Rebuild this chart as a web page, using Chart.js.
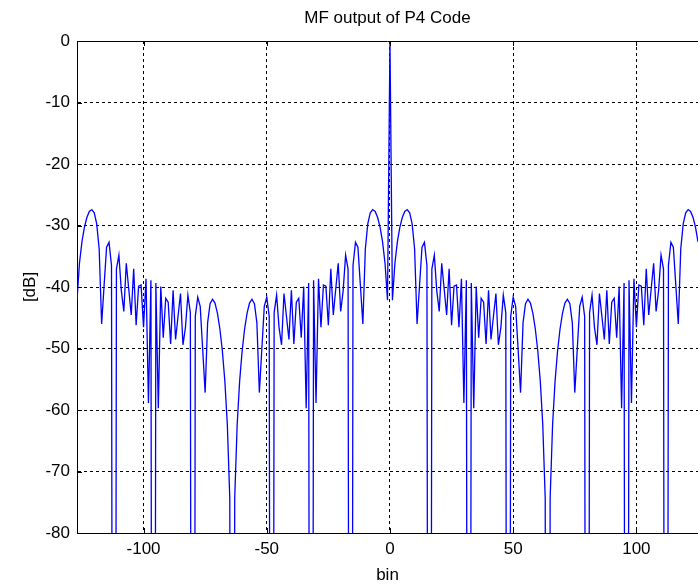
<!DOCTYPE html>
<html>
<head>
<meta charset="utf-8">
<script src="https://cdn.jsdelivr.net/npm/chart.js@4.4.1/dist/chart.umd.min.js"></script>
<style>
  html, body { margin: 0; padding: 0; background: #fff; }
  #wrap { width: 698px; height: 585px; }
</style>
</head>
<body>
<div id="wrap"><canvas id="chart" width="698" height="585"></canvas></div>
<script>
// 読み取った値 (MATLAB の図から)
const titleText = 'MF output of P4 Code';
const xLabel = 'bin';
const yLabel = '[dB]';
const xTicks = [-100, -50, 0, 50, 100];
const yTicks = [-80, -70, -60, -50, -40, -30, -20, -10, 0];

const bins = [
  -127, -126, -125, -124, -123, -122, -121, -120, -119, -118, -117, -116, -115, -114, -113, -112,
  -111, -110, -109, -108, -107, -106, -105, -104, -103, -102, -101, -100, -99, -98, -97, -96,
  -95, -94, -93, -92, -91, -90, -89, -88, -87, -86, -85, -84, -83, -82, -81, -80,
  -79, -78, -77, -76, -75, -74, -73, -72, -71, -70, -69, -68, -67, -66, -65, -64,
  -63, -62, -61, -60, -59, -58, -57, -56, -55, -54, -53, -52, -51, -50, -49, -48,
  -47, -46, -45, -44, -43, -42, -41, -40, -39, -38, -37, -36, -35, -34, -33, -32,
  -31, -30, -29, -28, -27, -26, -25, -24, -23, -22, -21, -20, -19, -18, -17, -16,
  -15, -14, -13, -12, -11, -10, -9, -8, -7, -6, -5, -4, -3, -2, -1, 0,
  1, 2, 3, 4, 5, 6, 7, 8, 9, 10, 11, 12, 13, 14, 15, 16,
  17, 18, 19, 20, 21, 22, 23, 24, 25, 26, 27, 28, 29, 30, 31, 32,
  33, 34, 35, 36, 37, 38, 39, 40, 41, 42, 43, 44, 45, 46, 47, 48,
  49, 50, 51, 52, 53, 54, 55, 56, 57, 58, 59, 60, 61, 62, 63, 64,
  65, 66, 67, 68, 69, 70, 71, 72, 73, 74, 75, 76, 77, 78, 79, 80,
  81, 82, 83, 84, 85, 86, 87, 88, 89, 90, 91, 92, 93, 94, 95, 96,
  97, 98, 99, 100, 101, 102, 103, 104, 105, 106, 107, 108, 109, 110, 111, 112,
  113, 114, 115, 116, 117, 118, 119, 120, 121, 122, 123, 124, 125, 126, 127,
];

// 負側 (-127 .. -1)
const mfLeft = [
  -42.14, -36.13, -32.66, -30.31, -28.70, -27.71, -27.41, -27.95, -29.74, -33.81,
  -46.01, -39.74, -33.54, -32.74, -36.50, -300, -37.10, -34.81, -40.63, -43.96,
  -36.13, -40.32, -44.56, -37.04, -46.23, -39.88, -39.67, -46.53, -38.66, -58.86,
  -38.92, -300, -39.35, -59.71, -39.94, -48.25, -41.83, -42.48, -49.27, -40.54,
  -48.53, -44.76, -41.06, -49.40, -46.60, -41.31, -44.17, -300, -44.77, -41.66,
  -43.16, -50.11, -57.17, -45.83, -42.71, -41.98, -42.62, -44.29, -46.87, -50.45,
  -55.31, -62.31, -74.34, -300, -74.34, -62.31, -55.31,
  -50.45, -46.87, -44.29, -42.62, -41.98, -42.71, -45.83, -57.17, -50.11, -43.16,
  -41.66, -44.77, -300, -44.17, -41.31, -46.60, -49.40, -41.06, -44.76, -48.53,
  -40.54, -49.27, -42.48, -41.83, -48.25, -39.94, -59.71, -39.35, -300, -38.92,
  -58.86, -38.66, -46.53, -39.67, -39.88, -46.23, -37.04, -44.56, -40.32, -36.13,
  -43.96, -40.63, -34.81, -37.10, -300, -36.50, -32.74, -33.54, -39.74, -46.01,
  -33.81, -29.74, -27.95, -27.41, -27.71, -28.70, -30.31, -32.66, -36.13, -42.14,
];
// 0 bin
const mfPeak = [0];
// 正側 (1 .. 127)
const mfRight = [
  -42.14, -36.13, -32.66, -30.31, -28.70, -27.71, -27.41, -27.95, -29.74, -33.81,
  -46.01, -39.74, -33.54, -32.74, -36.50, -300, -37.10, -34.81, -40.63, -43.96,
  -36.13, -40.32, -44.56, -37.04, -46.23, -39.88, -39.67, -46.53, -38.66, -58.86,
  -38.92, -300, -39.35, -59.71, -39.94, -48.25, -41.83, -42.48, -49.27, -40.54,
  -48.53, -44.76, -41.06, -49.40, -46.60, -41.31, -44.17, -300, -44.77, -41.66,
  -43.16, -50.11, -57.17, -45.83, -42.71, -41.98, -42.62, -44.29, -46.87, -50.45,
  -55.31, -62.31, -74.34, -300, -74.34, -62.31, -55.31,
  -50.45, -46.87, -44.29, -42.62, -41.98, -42.71, -45.83, -57.17, -50.11, -43.16,
  -41.66, -44.77, -300, -44.17, -41.31, -46.60, -49.40, -41.06, -44.76, -48.53,
  -40.54, -49.27, -42.48, -41.83, -48.25, -39.94, -59.71, -39.35, -300, -38.92,
  -58.86, -38.66, -46.53, -39.67, -39.88, -46.23, -37.04, -44.56, -40.32, -36.13,
  -43.96, -40.63, -34.81, -37.10, -300, -36.50, -32.74, -33.54, -39.74, -46.01,
  -33.81, -29.74, -27.95, -27.41, -27.71, -28.70, -30.31, -32.66, -36.13, -42.14,
];

const mfDb = mfLeft.concat(mfPeak, mfRight);

const fontfamily = "'Liberation Sans', Arial, Helvetica, sans-serif";
const linecolor = 'rgb(0, 0, 255)';
const axiscolor = '#000000';
const tickmarklen = 5;

const points = bins.map((b, i) => ({ x: b, y: mfDb[i] }));

new Chart(document.getElementById('chart').getContext('2d'), {
  type: 'scatter',
  data: {
    datasets: [
      {
        data: points,
        showLine: true,
        tension: 0,
        fill: false,
        borderColor: linecolor,
        borderWidth: 1.3,
        pointRadius: 0,
        pointHoverRadius: 0,
      },
    ],
  },
  options: {
    responsive: false,
    animation: false,
    events: [],
    layout: {
      padding: { top: 0, right: 0, bottom: 0, left: 0 },
    },
    scales: {
      x: {
        type: 'linear',
        min: -127,
        max: 125,
        afterBuildTicks: (scale) => {
          scale.ticks = xTicks.map(v => ({ value: v }));
        },
        afterFit: (scale) => {
          scale.height = 52;
        },
        grid: {
          color: axiscolor,
          lineWidth: 1,
          drawTicks: false,
        },
        border: {
          display: true,
          color: axiscolor,
          width: 1,
          dash: [3, 3],
        },
        ticks: {
          color: '#000',
          padding: 6,
          maxRotation: 0,
          font: { family: fontfamily, size: 17 },
        },
        title: {
          display: true,
          text: xLabel,
          color: '#000',
          font: { family: fontfamily, size: 17, lineHeight: 1.1 },
          padding: { top: 0, bottom: 0 },
        },
      },
      y: {
        type: 'linear',
        min: -80,
        max: 0,
        afterBuildTicks: (scale) => {
          scale.ticks = yTicks.map(v => ({ value: v }));
        },
        afterFit: (scale) => {
          scale.width = 77;
        },
        grid: {
          color: axiscolor,
          lineWidth: 1,
          drawTicks: false,
        },
        border: {
          display: true,
          color: axiscolor,
          width: 1,
          dash: [3, 3],
        },
        ticks: {
          color: '#000',
          padding: 7,
          font: { family: fontfamily, size: 17 },
        },
        title: {
          display: true,
          text: yLabel,
          color: '#000',
          font: { family: fontfamily, size: 17 },
          padding: { top: 20, bottom: 0 },
        },
      },
    },
    plugins: {
      legend: { display: false },
      tooltip: { enabled: false },
      title: {
        display: true,
        fullSize: false,
        text: titleText,
        color: '#000',
        font: { family: fontfamily, size: 17, weight: 'normal' },
        padding: { top: 8, bottom: 12.6 },
      },
    },
  },
  plugins: [
    {
      // 枠の上辺と内向きの目盛り
      afterDraw: (chart) => {
        const ctx = chart.ctx;
        const area = chart.chartArea;
        const scalex = chart.scales.x;
        const scaley = chart.scales.y;

        ctx.save();
        ctx.strokeStyle = axiscolor;
        ctx.lineWidth = 1;
        ctx.setLineDash([]);

        ctx.beginPath();
        ctx.moveTo(area.left, Math.round(area.top) + 0.5);
        ctx.lineTo(area.right, Math.round(area.top) + 0.5);
        ctx.stroke();

        xTicks.forEach(v => {
          const px = Math.round(scalex.getPixelForValue(v)) + 0.5;
          ctx.beginPath();
          ctx.moveTo(px, area.bottom);
          ctx.lineTo(px, area.bottom - tickmarklen);
          ctx.moveTo(px, area.top);
          ctx.lineTo(px, area.top + tickmarklen);
          ctx.stroke();
        });

        yTicks.forEach(v => {
          const py = Math.round(scaley.getPixelForValue(v)) + 0.5;
          ctx.beginPath();
          ctx.moveTo(area.left, py);
          ctx.lineTo(area.left + tickmarklen, py);
          ctx.stroke();
        });

        ctx.restore();
      },
    },
  ],
});
</script>
</body>
</html>
